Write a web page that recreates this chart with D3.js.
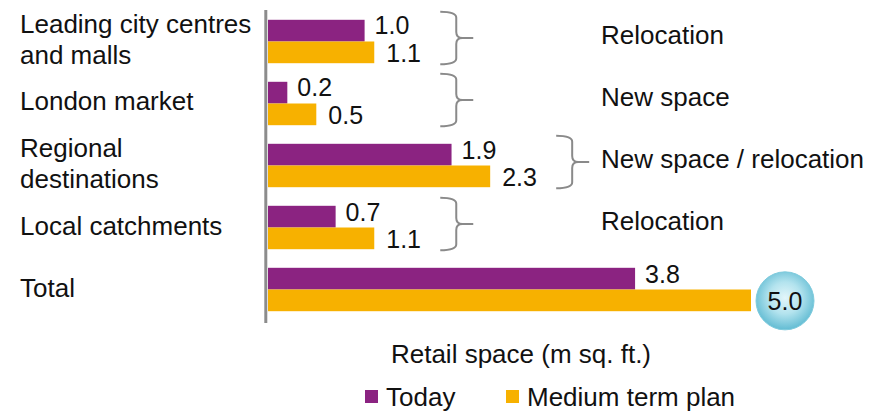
<!DOCTYPE html>
<html>
<head>
<meta charset="utf-8">
<script src="https://cdn.jsdelivr.net/npm/d3@7"></script>
<style>
  html, body { margin: 0; padding: 0; background: #fff; }
  svg { display: block; font-family: "Liberation Sans", Arial, Helvetica, sans-serif; }
</style>
</head>
<body>
<svg id="chart" width="890" height="414"></svg>
<script>
// Retail space by market segment, today vs. medium term plan (m sq. ft.)
const categories = [
  "Leading city centres\nand malls",
  "London market",
  "Regional\ndestinations",
  "Local catchments",
  "Total"
];
const seriesNames = ["Today", "Medium term plan"];
const todayValues  = [1.0, 0.2, 1.9, 0.7, 3.8];
const mediumValues = [1.1, 0.5, 2.3, 1.1, 5.0];
// Space strategy per segment (no note on the total row)
const strategies = ["Relocation", "New space", "New space / relocation", "Relocation", null];
const axisTitle = "Retail space (m sq. ft.)";

const colors = { "Today": "#8b2381", "Medium term plan": "#f7b100" };

const svg = d3.select("#chart");

const x = d3.scaleLinear().domain([0, 5]).range([268, 751]);
const y = d3.scaleBand().domain(categories).range([10, 321])
  .paddingInner(0.3).paddingOuter(0.158);
const ySub = d3.scaleBand().domain(seriesNames).range([0, y.bandwidth()]);

const rows = categories.map((c, i) => ({
  cat: c, today: todayValues[i], medium: mediumValues[i], note: strategies[i], i
}));

// Bars
const g = svg.append("g");
rows.forEach(r => {
  [["Today", r.today], ["Medium term plan", r.medium]].forEach(([s, v]) => {
    g.append("rect")
      .attr("x", x(0))
      .attr("y", y(r.cat) + ySub(s))
      .attr("width", x(v) - x(0))
      .attr("height", ySub.bandwidth())
      .attr("fill", colors[s]);
  });
});

// Vertical axis line
svg.append("line")
  .attr("x1", 265.8).attr("x2", 265.8)
  .attr("y1", 10).attr("y2", 323)
  .attr("stroke", "#8c8c8c").attr("stroke-width", 3);

// Category labels
rows.forEach(r => {
  const lines = r.cat.split("\n");
  const lh = 31;
  const cy = y(r.cat) + y.bandwidth() / 2 - 2;
  const t = svg.append("text")
    .attr("font-size", 26).attr("fill", "#111");
  lines.forEach((ln, k) => {
    t.append("tspan")
      .attr("x", 20)
      .attr("y", cy - (lines.length - 1) * lh / 2 + k * lh + 9)
      .text(ln);
  });
});

// Value labels
const fmt = d3.format(".1f");
rows.forEach(r => {
  svg.append("text")
    .attr("x", x(r.today) + 10)
    .attr("y", y(r.cat) + ySub("Today") + ySub.bandwidth() - 7)
    .attr("font-size", 25).attr("fill", "#111")
    .text(fmt(r.today));
  if (r.note !== null) {
    svg.append("text")
      .attr("x", x(r.medium) + 12)
      .attr("y", y(r.cat) + ySub("Medium term plan") + ySub.bandwidth() - 1)
      .attr("font-size", 25).attr("fill", "#111")
      .text(fmt(r.medium));
  }
});

// Highlighted total bubble
const defs = svg.append("defs");
const grad = defs.append("radialGradient").attr("id", "bubble")
  .attr("cx", "50%").attr("cy", "45%").attr("r", "55%");
grad.append("stop").attr("offset", "0%").attr("stop-color", "#e3f6fa");
grad.append("stop").attr("offset", "50%").attr("stop-color", "#b3e3ee");
grad.append("stop").attr("offset", "100%").attr("stop-color", "#62bcd3");

const total = rows[rows.length - 1];
const bcx = x(total.medium) + 34;
const bcy = y(total.cat) + ySub("Medium term plan") + ySub.bandwidth() / 2 + 0.5;
svg.append("circle")
  .attr("cx", bcx).attr("cy", bcy).attr("r", 29)
  .attr("fill", "url(#bubble)")
  .attr("stroke", "#7fcbdd").attr("stroke-width", 1);
svg.append("text")
  .attr("x", bcx).attr("y", bcy + 9)
  .attr("text-anchor", "middle")
  .attr("font-size", 25).attr("fill", "#111")
  .text(fmt(total.medium));

// Braces with strategy notes
function bracePath(x0, y0, y1) {
  const xs = x0 + 16, xt = x0 + 33, ym = (y0 + y1) / 2, r = 6;
  return `M${x0},${y0} Q${xs},${y0} ${xs},${y0 + r} L${xs},${ym - r} ` +
         `Q${xs},${ym} ${xs + r},${ym} L${xt},${ym} ` +
         `M${xs + r},${ym} Q${xs},${ym} ${xs},${ym + r} L${xs},${y1 - r} ` +
         `Q${xs},${y1} ${x0},${y1}`;
}
rows.filter(r => r.note !== null).forEach(r => {
  const bx = Math.max(x(1.1), x(Math.max(r.today, r.medium))) + 66;
  const y0 = y(r.cat) - 8;
  const y1 = y(r.cat) + y.bandwidth() + 1;
  svg.append("path")
    .attr("d", bracePath(bx, y0, y1))
    .attr("fill", "none").attr("stroke", "#8a8a8a").attr("stroke-width", 2);
  svg.append("text")
    .attr("x", 601).attr("y", (y0 + y1) / 2 - 3 + 9)
    .attr("font-size", 26).attr("fill", "#111")
    .text(r.note);
});

// Axis title
svg.append("text")
  .attr("x", 521).attr("y", 363)
  .attr("text-anchor", "middle")
  .attr("font-size", 26).attr("fill", "#111")
  .text(axisTitle);

// Legend
const legendX = [365, 506];
seriesNames.forEach((s, i) => {
  svg.append("rect")
    .attr("x", legendX[i]).attr("y", 390)
    .attr("width", 13).attr("height", 13)
    .attr("fill", colors[s]);
  svg.append("text")
    .attr("x", legendX[i] + 21).attr("y", 406)
    .attr("font-size", 26).attr("fill", "#111")
    .text(s);
});
</script>
</body>
</html>
